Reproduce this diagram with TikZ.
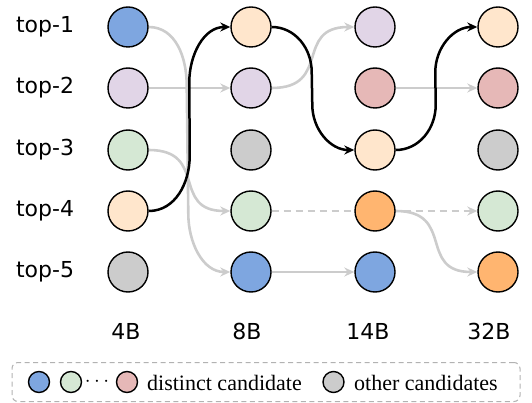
\documentclass[tikz,border=0pt]{standalone}
\usepackage{fontspec}
\setmainfont{Liberation Serif}
\newfontfamily\labelfont{DejaVu Sans}
\usetikzlibrary{arrows.meta,calc,backgrounds}

\definecolor{cblue}{HTML}{7EA6E0}
\definecolor{cpurple}{HTML}{E1D5E7}
\definecolor{cgreen}{HTML}{D5E8D4}
\definecolor{cpeach}{HTML}{FFE6CC}
\definecolor{cgrey}{HTML}{CCCCCC}
\definecolor{crose}{HTML}{E6B8B7}
\definecolor{corange}{HTML}{FFB570}
\definecolor{cline}{HTML}{CCCCCC}

\begin{document}
\begin{tikzpicture}[x=1pt,y=1pt,
  cand/.style={circle,draw=black,line width=1.4pt,minimum size=40pt,inner sep=0pt},
  small/.style={circle,draw=black,line width=1.4pt,minimum size=21pt,inner sep=0pt},
  rowlab/.style={font=\labelfont\fontsize{22}{26}\selectfont},
  greyflow/.style={draw=cline,line width=2.6pt,-{Stealth[length=10pt,width=9pt]}},
  topflow/.style={draw=black,line width=2.5pt,-{Stealth[length=10pt,width=9pt]}}]
  \useasboundingbox (0,0) rectangle (532,-403);

  % row and column labels
  \node[rowlab] (t1) at (45,-27) {top-1};
  \node[rowlab] (t2) at (45,-88) {top-2};
  \node[rowlab] (t3) at (45,-150) {top-3};
  \node[rowlab] (t4) at (45,-211) {top-4};
  \node[rowlab] (t5) at (45,-272) {top-5};
  \node[rowlab] (m4) at (126,-331) {4B};
  \node[rowlab] (m8) at (247,-331) {8B};
  \node[rowlab] (m14) at (368,-331) {14B};
  \node[rowlab] (m32) at (489,-331) {32B};

  % 4B
  \node[cand,fill=cblue] (a1) at (128,-27) {};
  \node[cand,fill=cpurple] (a2) at (128,-88) {};
  \node[cand,fill=cgreen] (a3) at (128,-150) {};
  \node[cand,fill=cpeach] (a4) at (128,-211) {};
  \node[cand,fill=cgrey] (a5) at (128,-272) {};
  % 8B
  \node[cand,fill=cpeach] (b1) at (251,-27) {};
  \node[cand,fill=cpurple] (b2) at (251,-88) {};
  \node[cand,fill=cgrey] (b3) at (251,-150) {};
  \node[cand,fill=cgreen] (b4) at (251,-211) {};
  \node[cand,fill=cblue] (b5) at (251,-272) {};
  % 14B
  \node[cand,fill=cpurple] (c1) at (375,-27) {};
  \node[cand,fill=crose] (c2) at (375,-88) {};
  \node[cand,fill=cpeach] (c3) at (375,-150) {};
  \node[cand,fill=corange] (c4) at (375,-211) {};
  \node[cand,fill=cblue] (c5) at (375,-272) {};
  % 32B
  \node[cand,fill=cpeach] (d1) at (498,-27) {};
  \node[cand,fill=crose] (d2) at (498,-88) {};
  \node[cand,fill=cgrey] (d3) at (498,-150) {};
  \node[cand,fill=cgreen] (d4) at (498,-211) {};
  \node[cand,fill=corange] (d5) at (498,-272) {};

  \begin{pgfonlayer}{background}
    \draw[greyflow] (a1.east) to[out=0,in=90] ($(a1.east)+(38,-58)$) -- ($(b5.west)+(-42,58)$) to[out=-90,in=180] (b5.west);
    \draw[greyflow] (a2) -- (b2);
    \draw[greyflow] (a3.east) to[out=0,in=180,looseness=1.5] (b4.west);
    \draw[greyflow] (b2.east) to[out=0,in=180,looseness=1.5] (c1.west);
    \draw[greyflow] (b5) -- (c5);
    \draw[greyflow,dash pattern=on 7pt off 5pt] (b4.east) -- (d4.west);
    \draw[greyflow] (c2) -- (d2);
    \draw[greyflow] (c4.east) to[out=0,in=180,looseness=1.5] (d5.west);
    \draw[topflow] (a4.east) to[out=0,in=-90] ($(a4.east)+(41,55)$) -- ($(b1.west)+(-41,-55)$) to[out=90,in=180] (b1.west);
    \draw[topflow] (b1.east) to[out=0,in=90] ($(b1.east)+(40,-45)$) -- ($(c3.west)+(-42,45)$) to[out=-90,in=180] (c3.west);
    \draw[topflow] (c3.east) to[out=0,in=-90] ($(c3.east)+(40,45)$) -- ($(d1.west)+(-42,-45)$) to[out=90,in=180] (d1.west);
  \end{pgfonlayer}

  % legend
  \node[draw=black!30,dash pattern=on 5pt off 3.5pt,line width=1pt,rounded corners=6pt,minimum width=508pt,minimum height=39pt,inner sep=0pt] (key) at (266,-382) {};
  \node[small,fill=cblue] (k1) at (39,-382) {};
  \node[small,fill=cgreen] (k2) at (71,-382) {};
  \node[font=\fontsize{22}{26}\selectfont] (kdots) at (97,-382) {$\cdots$};
  \node[small,fill=crose] (k3) at (127,-382) {};
  \node[anchor=west,font=\fontsize{22}{26}\selectfont,inner sep=0pt] (kt1) at (147,-383) {distinct candidate};
  \node[small,fill=cgrey] (k4) at (333.5,-382) {};
  \node[anchor=west,font=\fontsize{22}{26}\selectfont,inner sep=0pt] (kt2) at (354,-383) {other candidates};
\end{tikzpicture}
\end{document}
